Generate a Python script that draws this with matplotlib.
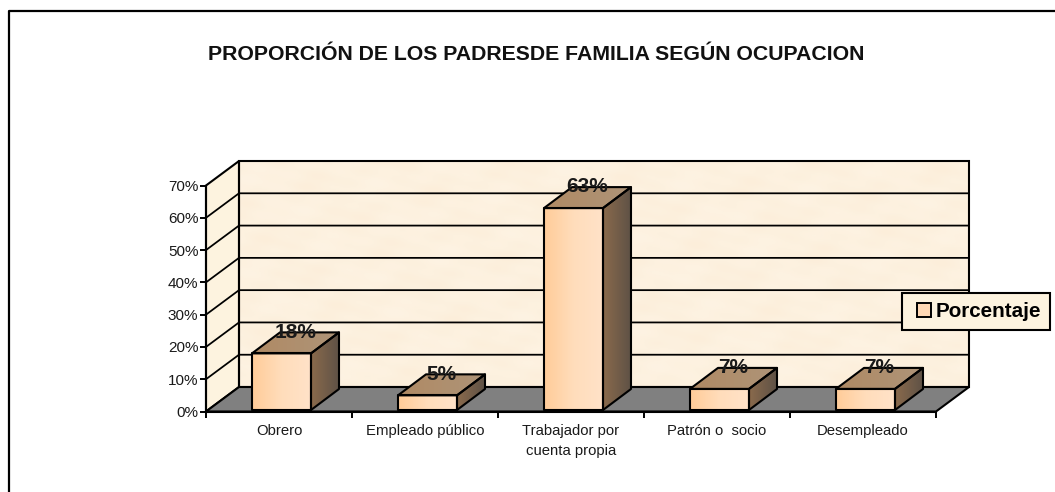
"""Proporcion de los padres de familia segun ocupacion: Excel-style 3D column chart."""
import numpy as np
import matplotlib
matplotlib.use("Agg")
import matplotlib.pyplot as plt
from matplotlib.colors import LinearSegmentedColormap
from matplotlib.legend_handler import HandlerPatch
from matplotlib.lines import Line2D
from matplotlib.patches import Patch, Polygon, Rectangle

plt.rcParams["font.family"] = ["Liberation Sans", "DejaVu Sans"]

TITLE = "PROPORCIÓN DE LOS PADRESDE FAMILIA SEGÚN OCUPACION"
CATEGORIES = ["Obrero", "Empleado público", "Trabajador por\ncuenta propia",
              "Patrón o  socio", "Desempleado"]
VALUES = [18, 5, 63, 7, 7]
Y_TICKS = [0, 10, 20, 30, 40, 50, 60, 70]
SERIES = "Porcentaje"

W, H = 1055, 492
# plot box in pixels (front plane)
LEFT, RIGHT, BOTTOM, TOP = 206, 936, 411.5, 185.5
# floor depth in data units (1 category = 146 px, 1 percent = 3.23 px)
DX = 33 / 146.0
DY = 24.5 / 3.23
# bars
BAR_W = 59 / 146.0
BAR_SHIFT = 2.5 / 146.0
BAR_BASE = 1.5 / 3.23
BAR_DX = 28 / 146.0
BAR_DY = 21 / 3.23
LW = 1.5

front_cm = LinearSegmentedColormap.from_list("front", ["#FFCC99", "#FFDDBB", "#FFE2C8"])
top_cm = LinearSegmentedColormap.from_list("top", ["#B08A64", "#AE9478"])
side_cm = LinearSegmentedColormap.from_list("side", ["#8A6A4C", "#5F5246"])


def gradient(ax, poly, cmap, z=3):
    """Horizontal gradient across the polygon's extent, clipped to it."""
    xs = [p[0] for p in poly]
    ys = [p[1] for p in poly]
    im = ax.imshow(np.linspace(0, 1, 64).reshape(1, -1), cmap=cmap, aspect="auto",
                   extent=(min(xs), max(xs), min(ys), max(ys)), zorder=z)
    patch = Polygon(poly, closed=True, fc="none", ec="black", lw=LW, zorder=z + 0.1,
                    clip_on=False, joinstyle="round")
    ax.add_patch(patch)
    im.set_clip_path(patch)


def legend_square(legend, orig_handle, xdescent, ydescent, width, height, fontsize):
    # small square pushed to the right of the handle slot
    side = 10.0
    return Rectangle((width - side - 0.5, (height - side) / 2), side, side)


fig = plt.figure(figsize=(W / 100, H / 100), dpi=100)
# outer frame: only left and top edges show
fig.add_artist(Line2D([8.5 / W, 8.5 / W, 1.0], [0, 1 - 10.5 / H, 1 - 10.5 / H],
                      color="black", lw=1.6, zorder=-1))

ax = fig.add_axes([LEFT / W, 1 - BOTTOM / H, (RIGHT - LEFT) / W, (BOTTOM - TOP) / H])
ax.patch.set_alpha(0)
n = len(CATEGORIES)

# back wall, mottled cream
xx, yy = np.meshgrid(np.linspace(0, 1, 400), np.linspace(0, 1, 120))
mottle = (np.sin(37 * xx + 9 * yy) * np.sin(23 * yy - 6 * xx)
          + 0.7 * np.sin(91 * xx - 31 * yy) * np.sin(59 * yy + 13 * xx))
wall_cm = LinearSegmentedColormap.from_list("wall", ["#FCEEDA", "#FDF1DF", "#FDF3E3"])
wall_poly = [(DX, DY), (n + DX, DY), (n + DX, 70 + DY), (DX, 70 + DY)]
ax.imshow(mottle, cmap=wall_cm, aspect="auto", zorder=0, clip_on=False,
          extent=(DX, n + DX, DY, 70 + DY))
# side wall
side_poly = [(0, 0), (DX, DY), (DX, 70 + DY), (0, 70)]
ax.add_patch(Polygon(side_poly, closed=True, fc="#FDF3DF", ec="black", lw=LW,
                     zorder=1, clip_on=False))
ax.add_patch(Polygon(wall_poly, closed=True, fc="none", ec="black", lw=LW,
                     zorder=1, clip_on=False))
# floor
ax.add_patch(Polygon([(0, 0), (n, 0), (n + DX, DY), (DX, DY)], closed=True,
                     fc="#808080", ec="black", lw=LW, zorder=1, clip_on=False))
# gridlines on both walls
for t in Y_TICKS[1:-1]:
    ax.plot([0, DX, n + DX], [t, t + DY, t + DY], color="black", lw=LW * 0.85, zorder=1.5,
            clip_on=False, solid_joinstyle="miter")

# columns
for i, v in enumerate(VALUES):
    x0 = i + 0.5 - BAR_W / 2 + BAR_SHIFT
    x1 = x0 + BAR_W
    y0 = BAR_BASE
    y1 = v
    gradient(ax, [(x0, y1), (x1, y1), (x1 + BAR_DX, y1 + BAR_DY), (x0 + BAR_DX, y1 + BAR_DY)], top_cm)
    gradient(ax, [(x1, y0), (x1 + BAR_DX, y0 + BAR_DY), (x1 + BAR_DX, y1 + BAR_DY), (x1, y1)], side_cm)
    gradient(ax, [(x0, y0), (x1, y0), (x1, y1), (x0, y1)], front_cm)
    ax.text(i + 0.5 + 0.113, v + 6.6, f"{v}%", ha="center", va="center", fontsize=15,
            fontweight="bold", color="#1a1a1a", zorder=6, clip_on=False)

ax.set_xlim(0, n)
ax.set_ylim(0, 70)
for s in ("top", "right"):
    ax.spines[s].set_visible(False)
for s in ("left", "bottom"):
    ax.spines[s].set_linewidth(LW)
    ax.spines[s].set_zorder(2)
ax.set_yticks(Y_TICKS)
ax.set_yticklabels([f"{t}%" for t in Y_TICKS], fontsize=11, color="#1a1a1a")
ax.set_xticks(range(n + 1))
ax.set_xticklabels([""] * (n + 1))
ax.set_xticks([i + 0.5 for i in range(n)], minor=True)
ax.set_xticklabels(CATEGORIES, minor=True, fontsize=10.7, color="#1a1a1a", linespacing=1.55)
ax.tick_params(axis="x", which="minor", length=0, pad=9)
ax.tick_params(axis="both", which="major", length=4, width=1.4, pad=1.5)

fig.text(536.5 / W, 1 - 54 / H, TITLE, ha="center", va="center", fontsize=15.35,
         fontweight="bold", color="#111111")

leg = fig.legend(handles=[Patch(fc="#FFD8B4", ec="black", lw=1.4, label=SERIES)],
                 handler_map={Patch: HandlerPatch(patch_func=legend_square)},
                 loc="center left", bbox_to_anchor=(902 / W, 1 - 311.5 / H),
                 prop={"size": 14.9, "weight": "bold"}, fancybox=False, framealpha=1,
                 facecolor="#FDF3DF", edgecolor="black", handlelength=1.0, handleheight=0.7,
                 handletextpad=0.22, borderpad=0.42, borderaxespad=0)
leg.get_frame().set_linewidth(LW)
leg.set_zorder(10)

fig.savefig("out.png", dpi=100)
